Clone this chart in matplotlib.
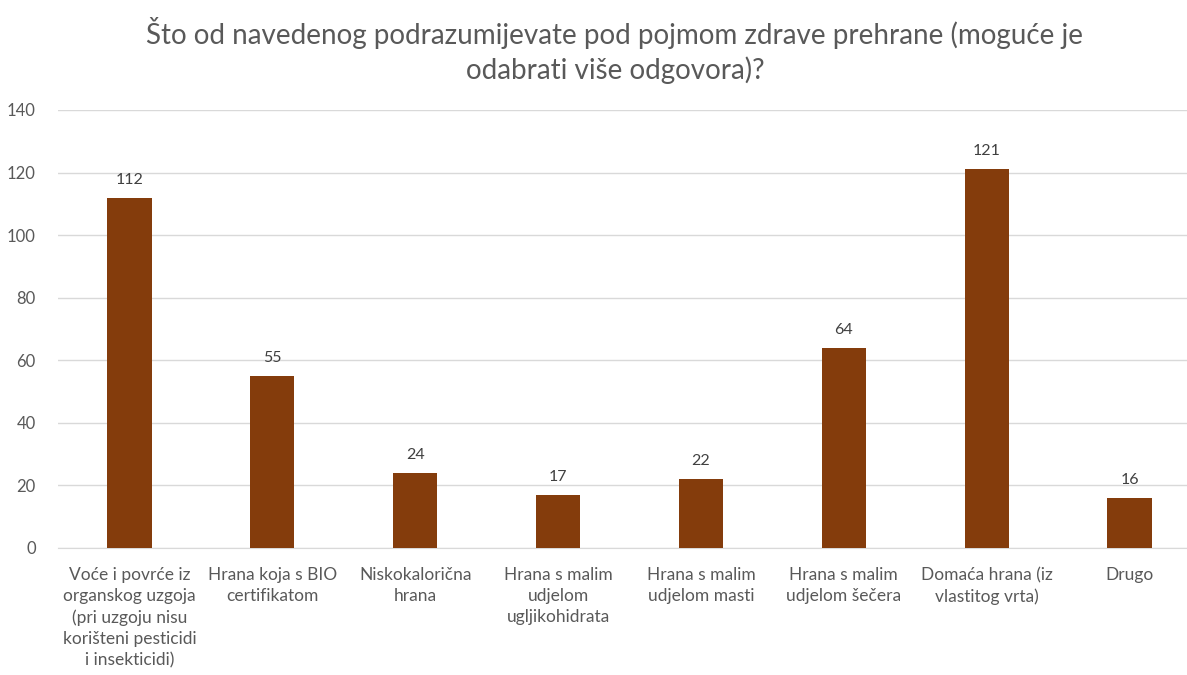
from matplotlib import pyplot as plt
import numpy as np

categories = [
    'Voće i povrće iz\norganskog uzgoja\n(pri uzgoju nisu\nkorišteni pesticidi\ni insekticidi)',
    'Hrana koja s BIO\ncertifikatom',
    'Niskokalorična\nhrana',
    'Hrana s malim\nudjelom\nugljikohidrata',
    'Hrana s malim\nudjelom masti',
    'Hrana s malim\nudjelom šečera',
    'Domaća hrana (iz\nvlastitog vrta)',
    'Drugo',
]
counts = [112, 55, 24, 17, 22, 64, 121, 16]
y_ticks = [0, 20, 40, 60, 80, 100, 120, 140]
title = 'Što od navedenog podrazumijevate pod pojmom zdrave prehrane (moguće je\nodabrati više odgovora)?'

text_color = '#595959'
bar_color = '#843C0C'

plt.rcParams['font.family'] = ['Lato', 'DejaVu Sans']

fig = plt.figure(figsize = (11.87, 6.75), dpi = 100)
ax = fig.add_axes([58 / 1187, 1 - 548 / 675, 1143 / 1187, 438 / 675])

x = np.arange(len(categories))
bars = ax.bar(x, counts, width = 0.31, color = bar_color, zorder = 3)
for rect, value in zip(bars, counts):
    ax.text(rect.get_x() + rect.get_width() / 2, value + 3.5, str(value),
            ha = 'center', va = 'bottom', fontsize = 11.5, color = '#404040')

ax.set_xlim(-0.5, len(categories) - 0.5)
ax.set_ylim(0, 140)
ax.set_yticks(y_ticks)
ax.set_xticks(x)
ax.set_xticklabels(categories, fontsize = 12.5, color = text_color, linespacing = 1.38)
ax.tick_params(axis = 'y', labelsize = 12, labelcolor = text_color, length = 0, pad = 16)
ax.tick_params(axis = 'x', length = 0, pad = 14)
ax.grid(axis = 'y', color = '#d9d9d9', linewidth = 1, zorder = 0)
for side in ['top', 'right', 'left']:
    ax.spines[side].set_visible(False)
ax.spines['bottom'].set_color('#d9d9d9')

fig.text(0.518, 0.975, title, ha = 'center', va = 'top', fontsize = 20,
         color = text_color, linespacing = 1.35)

fig.savefig('out.png', dpi = 100)
